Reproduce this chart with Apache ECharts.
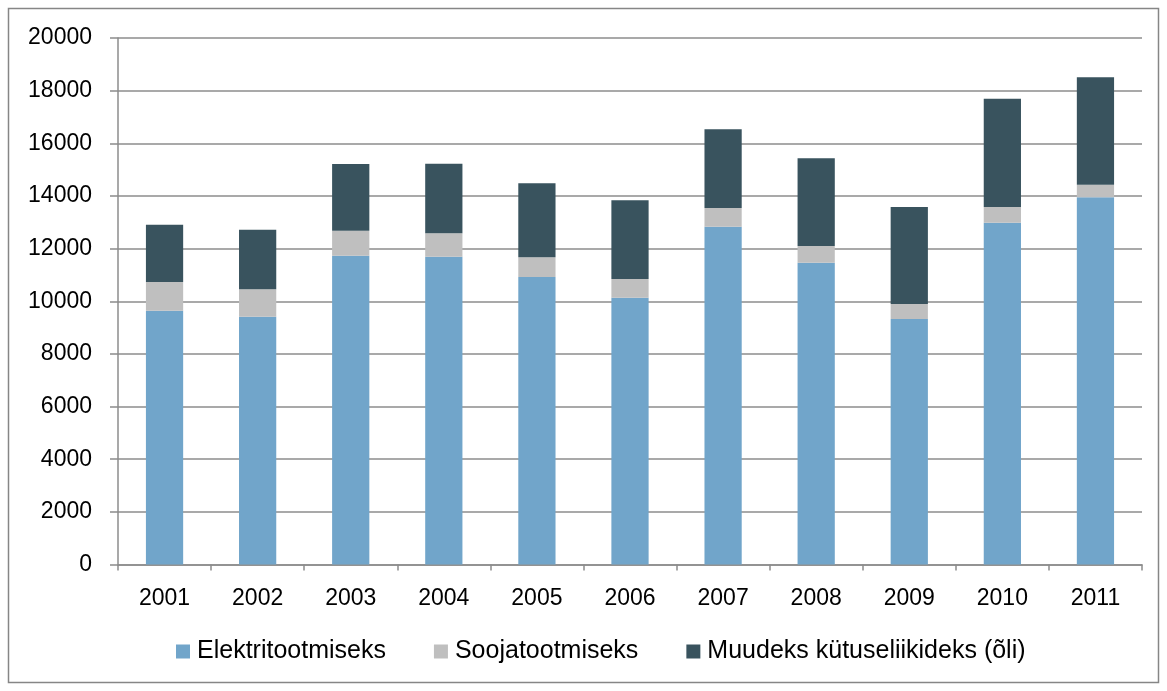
<!DOCTYPE html>
<html>
<head>
<meta charset="utf-8">
<script src="https://cdn.jsdelivr.net/npm/echarts@6/dist/echarts.min.js"></script>
<style>
  html, body { margin: 0; padding: 0; background: #fff; }
  #chart { width: 1167px; height: 691px; }
</style>
</head>
<body>
<div id="chart"></div>
<script>
// andmed (loetud pildilt)
const years = ['2001', '2002', '2003', '2004', '2005', '2006', '2007', '2008', '2009', '2010', '2011'];
const elekter = [9640, 9410, 11730, 11690, 10920, 10135, 12830, 11465, 9325, 12985, 13950];
const soojus = [1090, 1045, 950, 890, 750, 710, 710, 635, 570, 595, 480];
const muud = [2175, 2265, 2535, 2645, 2810, 2990, 2990, 3330, 3685, 4115, 4080];
const yTicks = { min: 0, max: 20000, interval: 2000 };

const chart = echarts.init(document.getElementById('chart'));
const font = 'Liberation Sans';
const gridCol = '#8c8c8c';

chart.setOption({
  animation: false,
  backgroundColor: '#fff',
  textStyle: { fontFamily: font },
  graphic: [{
    type: 'rect',
    shape: { x: 8.5, y: 8.5, width: 1150, height: 674 },
    style: { fill: 'none', stroke: '#868686', lineWidth: 1.5 },
    silent: true
  }],
  grid: { left: 118, right: 25, top: 38, bottom: 126.5, containLabel: false },
  legend: {
    bottom: 22,
    left: 171,
    itemWidth: 14,
    itemHeight: 14,
    itemGap: 48,
    icon: 'rect',
    textStyle: { fontFamily: font, fontSize: 25, color: '#000', padding: [0, 0, 0, 2] },
    data: ['Elektritootmiseks', 'Soojatootmiseks', 'Muudeks kütuseliikideks (õli)']
  },
  xAxis: {
    type: 'category',
    data: years,
    axisLine: { show: true, lineStyle: { color: gridCol, width: 1.5 } },
    axisTick: { show: true, length: 6, alignWithLabel: false, lineStyle: { color: gridCol, width: 1.5 } },
    axisLabel: { fontSize: 23, color: '#000', margin: 23, fontFamily: font }
  },
  yAxis: {
    type: 'value',
    min: yTicks.min,
    max: yTicks.max,
    interval: yTicks.interval,
    axisLine: { show: true, lineStyle: { color: gridCol, width: 1.5 } },
    axisTick: { show: true, length: 8, lineStyle: { color: gridCol, width: 1.5 } },
    splitLine: { show: true, lineStyle: { color: gridCol, width: 1.5 } },
    axisLabel: { fontSize: 23, color: '#000', margin: 26, fontFamily: font, formatter: v => String(v) }
  },
  series: [
    { name: 'Elektritootmiseks', type: 'bar', stack: 'a', barWidth: '40%', itemStyle: { color: '#71a5ca' }, data: elekter },
    { name: 'Soojatootmiseks', type: 'bar', stack: 'a', itemStyle: { color: '#bfbfbf' }, data: soojus },
    { name: 'Muudeks kütuseliikideks (õli)', type: 'bar', stack: 'a', itemStyle: { color: '#39535e' }, data: muud }
  ]
});
</script>
</body>
</html>
